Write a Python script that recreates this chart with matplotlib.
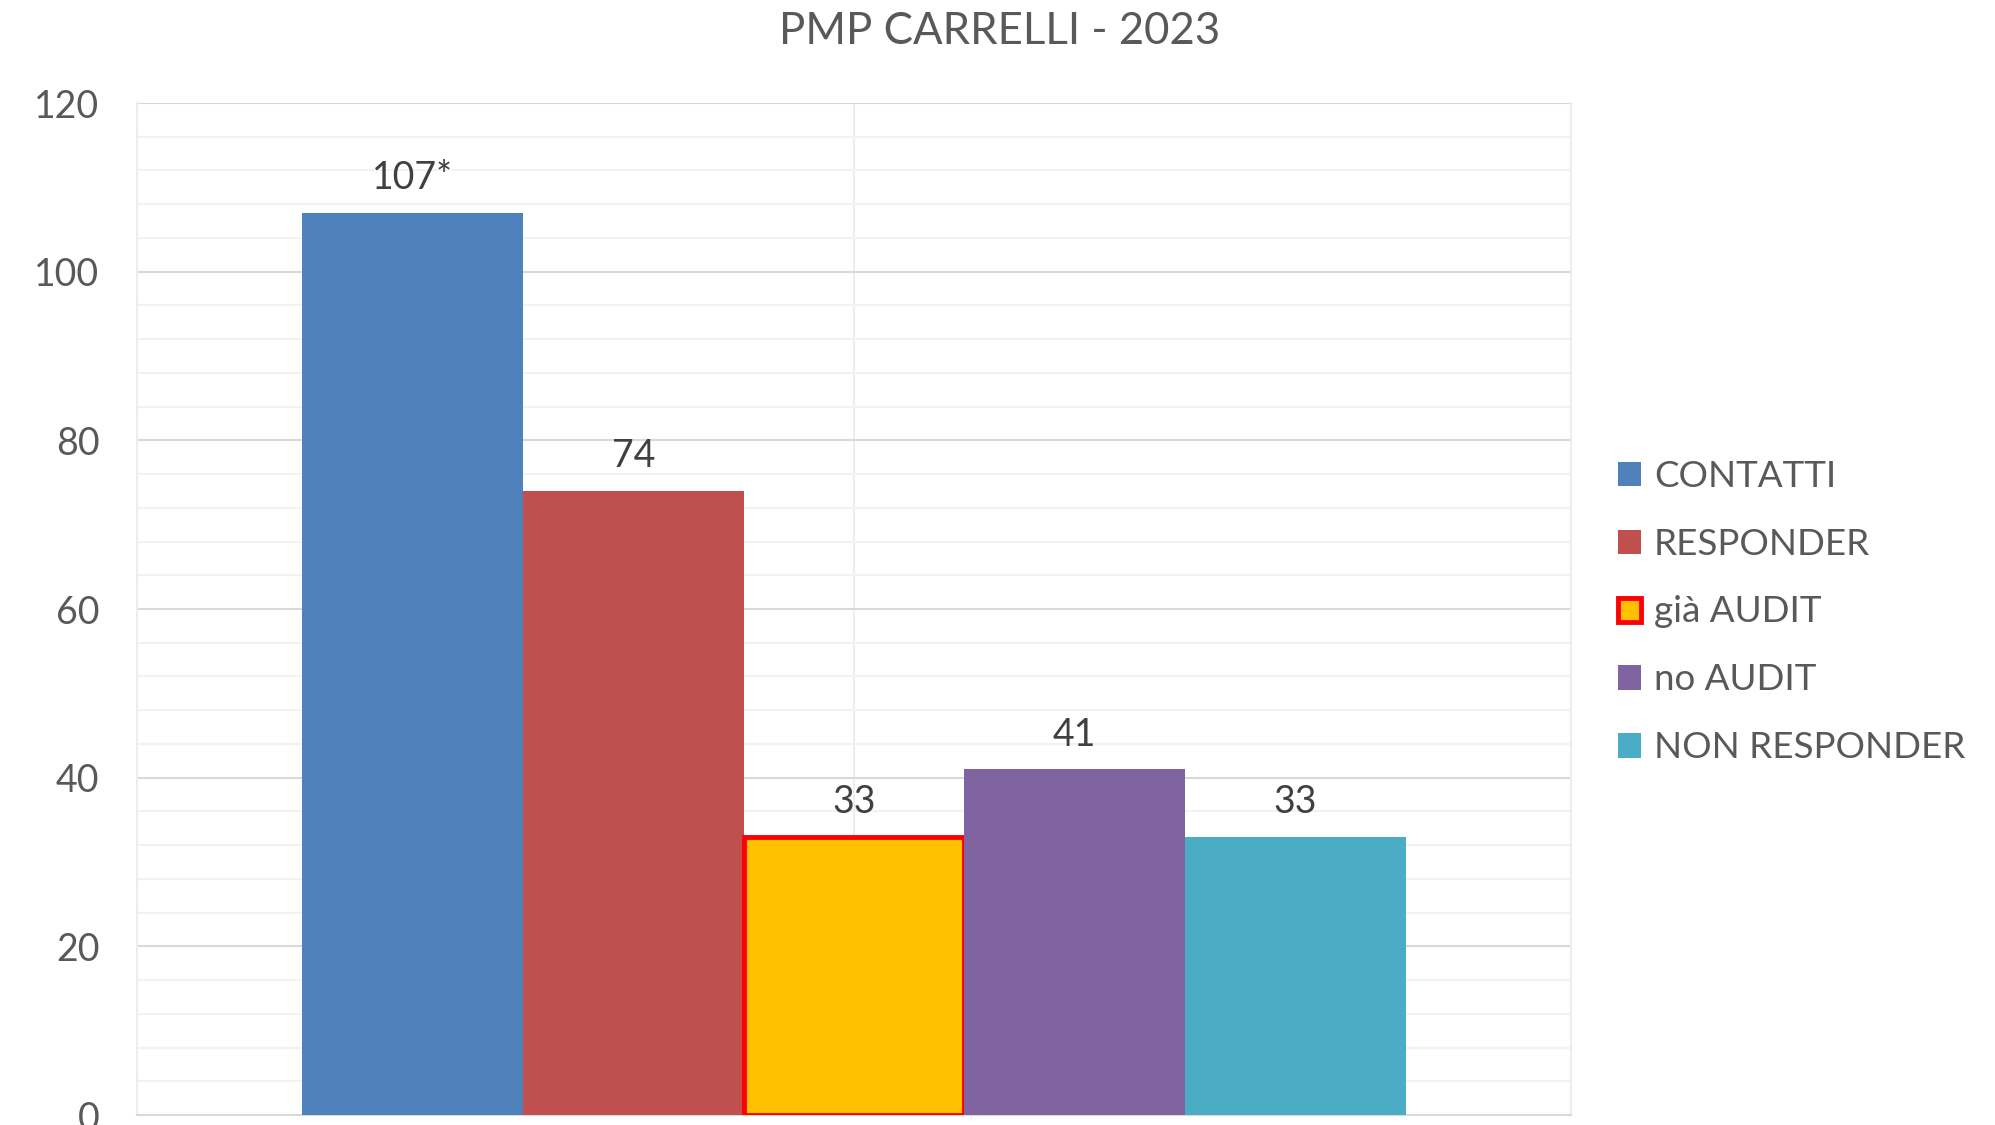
import matplotlib
matplotlib.use("Agg")
import matplotlib.pyplot as plt
from matplotlib.ticker import MultipleLocator

plt.rcParams['font.family'] = ['Lato', 'DejaVu Sans']

categories = ["CONTATTI", "RESPONDER", "già AUDIT", "no AUDIT", "NON RESPONDER"]
values = [107, 74, 33, 41, 33]
value_labels = ["107*", "74", "33", "41", "33"]
colors = ["#4F81BD", "#C0504D", "#FFC000", "#8064A2", "#4BACC6"]
edgecolors = [None, None, "#FF0000", None, None]
title = "PMP CARRELLI - 2023"

fig = plt.figure(figsize=(19.95, 11.25), dpi=100)
ax = fig.add_axes([137/1995, 10/1125, (1571-137)/1995, (1115-103)/1125])

n = len(values)
group = 1/1.3
w = group / n
for i, (cat, v, c, ec, lab) in enumerate(zip(categories, values, colors, edgecolors, value_labels)):
    x = (i - (n - 1) / 2) * w
    if ec:
        ax.bar(x, v, width=w, color=c, edgecolor=ec, linewidth=3.5, label=cat, zorder=3)
    else:
        ax.bar(x, v, width=w, color=c, linewidth=0, label=cat, zorder=3)
    ax.annotate(lab, (x, v), xytext=(0, 12), textcoords="offset points",
                ha="center", va="bottom", fontsize=27, color="#404040")

ax.set_xlim(-0.5, 0.5)
ax.set_ylim(0, 120)
ax.yaxis.set_major_locator(MultipleLocator(20))
ax.yaxis.set_minor_locator(MultipleLocator(4))
ax.grid(axis="y", which="major", color="#d9d9d9", linewidth=1.5, zorder=0)
ax.grid(axis="y", which="minor", color="#f2f2f2", linewidth=1.5, zorder=0)
ax.set_axisbelow(True)
ax.axvline(0.0, color="#ededed", linewidth=1.5, zorder=0)
ax.set_xticks([])
ax.tick_params(axis="y", which="both", length=0, pad=27, labelsize=27, labelcolor="#595959")
ax.spines["top"].set_visible(False)
for s in ["left", "right"]:
    ax.spines[s].set_color("#ededed")
    ax.spines[s].set_linewidth(1.5)
ax.spines["bottom"].set_color("#d9d9d9")
ax.spines["bottom"].set_linewidth(1.5)

fig.text(0.501, 1 - 32/1125, title, ha="center", va="center", fontsize=31.5, color="#595959")

leg = fig.legend(loc="center left", bbox_to_anchor=(1618/1995, 1 - 612/1125),
                 frameon=False, fontsize=26.5, handlelength=0.63, handleheight=0.63,
                 handletextpad=0.35, labelspacing=0.95, borderpad=0, borderaxespad=0)
for t in leg.get_texts():
    t.set_color("#595959")

fig.savefig("out.png", dpi=100)
